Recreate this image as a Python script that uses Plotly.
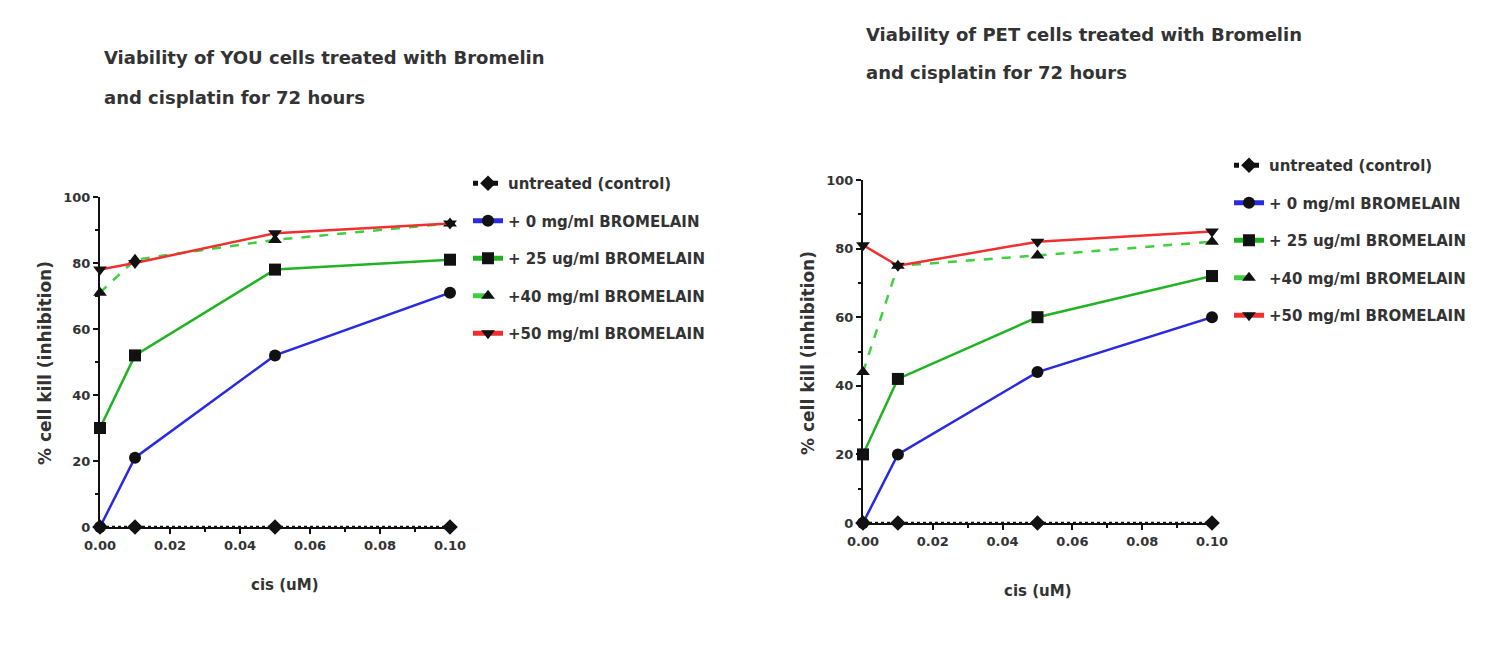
import plotly.graph_objects as go

# Cisplatin concentrations (uM)
cis = [0.0, 0.01, 0.05, 0.10]

# % cell kill (inhibition), YOU cells
you_untreated = [0, 0, 0, 0]
you_b0 = [0, 21, 52, 71]
you_b25 = [30, 52, 78, 81]
you_b40 = [71, 81, 87, 92]
you_b50 = [78, 80, 89, 92]

# % cell kill (inhibition), PET cells
pet_untreated = [0, 0, 0, 0]
pet_b0 = [0, 20, 44, 60]
pet_b25 = [20, 42, 60, 72]
pet_b40 = [44, 75, 78, 82]
pet_b50 = [81, 75, 82, 85]

series_names = [
    "untreated (control)",
    "+ 0 mg/ml BROMELAIN",
    "+ 25 ug/ml BROMELAIN",
    "+40 mg/ml BROMELAIN",
    "+50 mg/ml BROMELAIN",
]
series_styles = [
    dict(color="#111111", dash="dot", symbol="diamond"),
    dict(color="#2a2ae0", dash="solid", symbol="circle"),
    dict(color="#22b322", dash="solid", symbol="square"),
    dict(color="#3fcf3f", dash="dash", symbol="triangle-up"),
    dict(color="#ee3030", dash="solid", symbol="triangle-down"),
]

title_lines = [
    ["Viability of YOU cells treated with Bromelin", "and cisplatin for 72 hours"],
    ["Viability of PET cells treated with Bromelin", "and cisplatin for 72 hours"],
]
x_title = "cis (uM)"
y_title = "% cell kill (inhibition)"

FONT = "DejaVu Sans, Arial"
TXT = "#333333"
W, H = 1505, 659

panels = [
    dict(data=[you_untreated, you_b0, you_b25, you_b40, you_b50],
         xa="x", ya="y", legend="legend",
         xdom=(100, 450), ydom=(197, 527),
         title_pos=(102, 57, 97), xt_pos=(285, 585), yt_pos=(45, 363),
         legend_pos=(468, 167)),
    dict(data=[pet_untreated, pet_b0, pet_b25, pet_b40, pet_b50],
         xa="x2", ya="y2", legend="legend2",
         xdom=(863, 1212), ydom=(180, 523),
         title_pos=(864, 35, 73), xt_pos=(1038, 591), yt_pos=(808, 353),
         legend_pos=(1229, 149)),
]

fig = go.Figure()

for p in panels:
    for name, vals, st in zip(series_names, p["data"], series_styles):
        fig.add_trace(go.Scatter(
            x=cis, y=vals, name=name, mode="lines+markers",
            xaxis=p["xa"], yaxis=p["ya"], legend=p["legend"],
            legendgroup=p["legend"] + name,
            line=dict(color=st["color"], width=2.5, dash=st["dash"]),
            marker=dict(symbol=st["symbol"], color="#111111", size=12),
            cliponaxis=False,
        ))


def px(xp):
    return xp / W


def py(yp):
    return 1 - yp / H


axis_common = dict(
    showgrid=False, zeroline=False, showline=True, linecolor="#111111",
    linewidth=2, ticks="outside", tickcolor="#111111", tickwidth=2,
    ticklen=5, automargin=False,
    tickfont=dict(family=FONT, size=13, color=TXT, weight="bold"),
)

legend_common = dict(
    font=dict(family=FONT, size=15, color=TXT, weight="bold"),
    bgcolor="rgba(0,0,0,0)", tracegroupgap=15, itemsizing="constant",
    xanchor="left", yanchor="top",
)

for i, p in enumerate(panels):
    sfx = "" if i == 0 else str(i + 1)
    fig.update_layout(**{
        "xaxis" + sfx: dict(
            domain=[px(p["xdom"][0]), px(p["xdom"][1])], range=[0, 0.1],
            anchor="y" + sfx,
            tickvals=[0, 0.02, 0.04, 0.06, 0.08, 0.10], tickformat=".2f",
            minor=dict(tickvals=[0.01, 0.03, 0.05, 0.07, 0.09], ticks="outside",
                       ticklen=3, tickcolor="#111111", tickwidth=2),
            **axis_common),
        "yaxis" + sfx: dict(
            domain=[py(p["ydom"][1]), py(p["ydom"][0])], range=[0, 100],
            anchor="x" + sfx,
            tickvals=[0, 20, 40, 60, 80, 100],
            minor=dict(tickvals=[10, 30, 50, 70, 90], ticks="outside",
                       ticklen=3, tickcolor="#111111", tickwidth=2),
            **axis_common),
        p["legend"]: dict(x=px(p["legend_pos"][0]), y=py(p["legend_pos"][1]),
                          **legend_common),
    })

    tx, ty1, ty2 = p["title_pos"]
    for line, yy in zip(title_lines[i], (ty1, ty2)):
        fig.add_annotation(text=line, xref="paper", yref="paper",
                           x=px(tx), y=py(yy), xanchor="left", yanchor="middle",
                           showarrow=False,
                           font=dict(family=FONT, size=18, color=TXT, weight="bold"))
    fig.add_annotation(text=x_title, xref="paper", yref="paper",
                       x=px(p["xt_pos"][0]), y=py(p["xt_pos"][1]),
                       xanchor="center", yanchor="middle", showarrow=False,
                       font=dict(family=FONT, size=15, color=TXT, weight="bold"))
    fig.add_annotation(text=y_title, xref="paper", yref="paper",
                       x=px(p["yt_pos"][0]), y=py(p["yt_pos"][1]),
                       xanchor="center", yanchor="middle", textangle=-90,
                       showarrow=False,
                       font=dict(family=FONT, size=17, color=TXT, weight="bold"))

fig.update_layout(
    width=W, height=H, margin=dict(l=0, r=0, t=0, b=0),
    paper_bgcolor="white", plot_bgcolor="white", showlegend=True,
)

fig.write_html("out.html")
